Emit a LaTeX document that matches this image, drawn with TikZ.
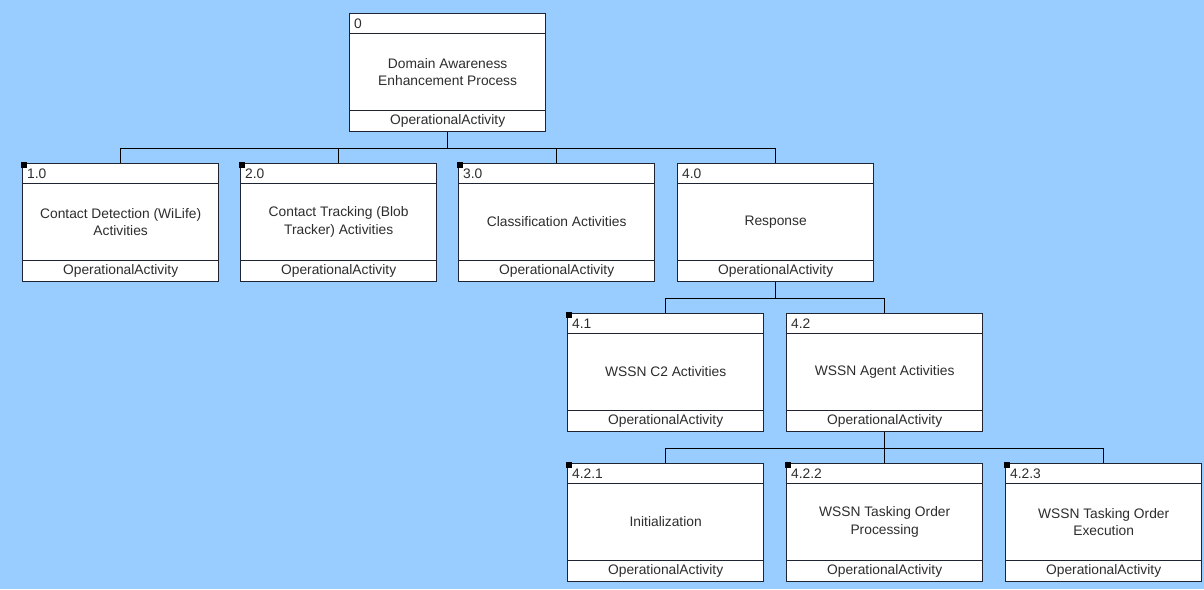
\documentclass[tikz,border=0pt]{standalone}
\usepackage{fontspec}
\setmainfont{Liberation Sans}
\definecolor{bg}{RGB}{153,204,255}
\definecolor{bord}{RGB}{30,36,50}
\definecolor{txt}{RGB}{45,45,45}
\tikzset{
  abox/.style={draw=bord, fill=white, line width=1.3pt, minimum width=196pt,
    minimum height=118pt, inner sep=0pt, anchor=north west},
  sepline/.style={draw=bord, line width=1pt},
  lbl/.style={font=\fontsize{13.8}{17.5}\selectfont, text=txt, inner sep=0pt},
  conn/.style={draw=black, line width=1.3pt},
}
\newcommand\actbox[5]{%
  \node[abox] (#1) at (#2,#3) {};
  \draw[sepline] ([yshift=-20pt]#1.north west) -- ([yshift=-20pt]#1.north east);
  \draw[sepline] ([yshift=22pt]#1.south west) -- ([yshift=22pt]#1.south east);
  \node[lbl, anchor=west] (#1-num) at ([xshift=5pt,yshift=-10.5pt]#1.north west) {#4};
  \node[lbl, align=center] (#1-txt) at ([yshift=-59pt]#1.north) {#5};
  \node[lbl] (#1-type) at ([yshift=11pt]#1.south) {OperationalActivity};
}
\newcommand\leafflag[1]{\fill[black] ([shift={(-0.6pt,0.6pt)}]#1.north west) rectangle ++(6,6);}
\begin{document}
\begin{tikzpicture}[x=1pt,y=-1pt]
\useasboundingbox (0,0) rectangle (1204,589);
\fill[bg] (0,0) rectangle (1204,589);

\actbox{n0}{349}{13}{0}{Domain Awareness\\Enhancement Process}
\actbox{n1}{22}{163}{1.0}{Contact Detection (WiLife)\\Activities}
\actbox{n2}{240}{163}{2.0}{Contact Tracking (Blob\\Tracker) Activities}
\actbox{n3}{458}{163}{3.0}{Classification Activities}
\actbox{n4}{677}{163}{4.0}{Response}
\actbox{n41}{567}{313}{4.1}{WSSN C2 Activities}
\actbox{n42}{786}{313}{4.2}{WSSN Agent Activities}
\actbox{n421}{567}{463}{4.2.1}{Initialization}
\actbox{n422}{786}{463}{4.2.2}{WSSN Tasking Order\\Processing}
\actbox{n423}{1005}{463}{4.2.3}{WSSN Tasking Order\\Execution}

\foreach \c in {n1,n2,n3,n4} {\draw[conn] (n0.south) -- ++(0,16) -| (\c.north);}
\foreach \c in {n41,n42} {\draw[conn] (n4.south) -- ++(0,16) -| (\c.north);}
\foreach \c in {n421,n422,n423} {\draw[conn] (n42.south) -- ++(0,16) -| (\c.north);}

\foreach \c in {n1,n2,n3,n41,n421,n422,n423} {\leafflag{\c}}
\end{tikzpicture}
\end{document}
